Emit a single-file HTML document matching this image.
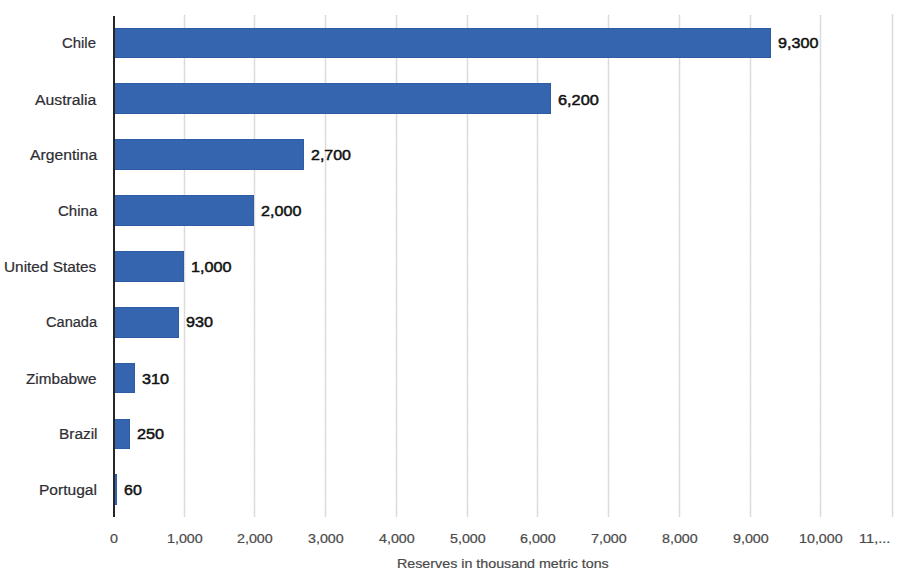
<!DOCTYPE html>
<html><head><meta charset="utf-8"><style>
html,body{margin:0;padding:0;background:#fff;width:900px;height:580px;overflow:hidden;position:relative;font-family:"Liberation Sans",sans-serif;}
.g{position:absolute;top:15px;height:502px;width:1px;background:repeating-linear-gradient(to bottom,#d4d4d4 0 1px,#e0e0e0 1px 3px);box-shadow:1px 0 0 #f6f6f6,-1px 0 0 #f6f6f6;}
.b{position:absolute;height:30.70px;background:#3465ae;box-shadow:inset 0 0 0 0.6px #2b569c;}
.ax{position:absolute;left:113px;top:16px;width:2px;height:501px;background:#262626;}
.c,.v,.t,.title{position:absolute;white-space:nowrap;height:0;line-height:0;transform-origin:0 0;}
.c{font-size:14px;color:#2e2e33;-webkit-text-stroke:0.2px #2e2e33;}
.v{font-size:15px;font-weight:normal;color:#111;-webkit-text-stroke:0.5px #111;}
.t{font-size:12.5px;color:#4a4a4a;-webkit-text-stroke:0.2px #4a4a4a;}
.title{font-size:13px;color:#4a4a4a;-webkit-text-stroke:0.2px #4a4a4a;}
</style></head><body>
<div class="g" style="left:184.20px"></div>
<div class="g" style="left:253.80px"></div>
<div class="g" style="left:325.10px"></div>
<div class="g" style="left:396.20px"></div>
<div class="g" style="left:466.80px"></div>
<div class="g" style="left:536.80px"></div>
<div class="g" style="left:607.80px"></div>
<div class="g" style="left:678.80px"></div>
<div class="g" style="left:750.20px"></div>
<div class="g" style="left:819.80px"></div>
<div class="g" style="left:892.30px;top:14px;height:503px;background:#dadada"></div>
<div class="b" style="top:27.60px;left:112.80px;width:657.79px"></div>
<div class="c" style="left:62.20px;top:43.00px;transform:scaleX(1.0649)">Chile</div>
<div class="v" style="left:778.30px;top:43.00px;transform:scaleX(1.0754)">9,300</div>
<div class="b" style="top:83.45px;left:112.80px;width:438.53px"></div>
<div class="c" style="left:35.40px;top:100.00px;transform:scaleX(1.1265)">Australia</div>
<div class="v" style="left:558.20px;top:100.00px;transform:scaleX(1.0889)">6,200</div>
<div class="b" style="top:139.30px;left:112.80px;width:190.97px"></div>
<div class="c" style="left:29.50px;top:155.00px;transform:scaleX(1.1223)">Argentina</div>
<div class="v" style="left:311.30px;top:155.00px;transform:scaleX(1.0647)">2,700</div>
<div class="b" style="top:195.15px;left:112.80px;width:141.46px"></div>
<div class="c" style="left:57.60px;top:211.00px;transform:scaleX(1.0736)">China</div>
<div class="v" style="left:261.30px;top:211.00px;transform:scaleX(1.0754)">2,000</div>
<div class="b" style="top:251.00px;left:112.80px;width:70.73px"></div>
<div class="c" style="left:4.40px;top:267.00px;transform:scaleX(1.0970)">United States</div>
<div class="v" style="left:191.12px;top:267.00px;transform:scaleX(1.0803)">1,000</div>
<div class="b" style="top:306.85px;left:112.80px;width:65.78px"></div>
<div class="c" style="left:45.80px;top:322.00px;transform:scaleX(1.0415)">Canada</div>
<div class="v" style="left:185.80px;top:322.00px;transform:scaleX(1.0776)">930</div>
<div class="b" style="top:362.70px;left:112.80px;width:21.93px"></div>
<div class="c" style="left:26.20px;top:379.00px;transform:scaleX(1.0912)">Zimbabwe</div>
<div class="v" style="left:142.40px;top:379.00px;transform:scaleX(1.0816)">310</div>
<div class="b" style="top:418.55px;left:112.80px;width:17.68px"></div>
<div class="c" style="left:58.50px;top:434.00px;transform:scaleX(1.1004)">Brazil</div>
<div class="v" style="left:137.20px;top:434.00px;transform:scaleX(1.0857)">250</div>
<div class="b" style="top:474.40px;left:112.80px;width:4.24px"></div>
<div class="c" style="left:38.69px;top:490.00px;transform:scaleX(1.1110)">Portugal</div>
<div class="v" style="left:124.20px;top:490.00px;transform:scaleX(1.0647)">60</div>
<div class="ax"></div>
<div class="t" style="left:110.10px;top:539.00px;transform:scaleX(1.1427)">0</div>
<div class="t" style="left:167.30px;top:539.00px;transform:scaleX(1.1427)">1,000</div>
<div class="t" style="left:236.90px;top:539.00px;transform:scaleX(1.1427)">2,000</div>
<div class="t" style="left:308.20px;top:539.00px;transform:scaleX(1.1427)">3,000</div>
<div class="t" style="left:379.30px;top:539.00px;transform:scaleX(1.1427)">4,000</div>
<div class="t" style="left:449.90px;top:539.00px;transform:scaleX(1.1427)">5,000</div>
<div class="t" style="left:519.90px;top:539.00px;transform:scaleX(1.1427)">6,000</div>
<div class="t" style="left:590.90px;top:539.00px;transform:scaleX(1.1427)">7,000</div>
<div class="t" style="left:661.90px;top:539.00px;transform:scaleX(1.1427)">8,000</div>
<div class="t" style="left:733.30px;top:539.00px;transform:scaleX(1.1427)">9,000</div>
<div class="t" style="left:798.93px;top:539.00px;transform:scaleX(1.1427)">10,000</div>
<div class="t" style="left:858.90px;top:539.00px;transform:scaleX(1.1669)">11,...</div>
<div class="title" style="left:396.80px;top:564.00px;transform:scaleX(1.0976)">Reserves in thousand metric tons</div>
</body></html>
